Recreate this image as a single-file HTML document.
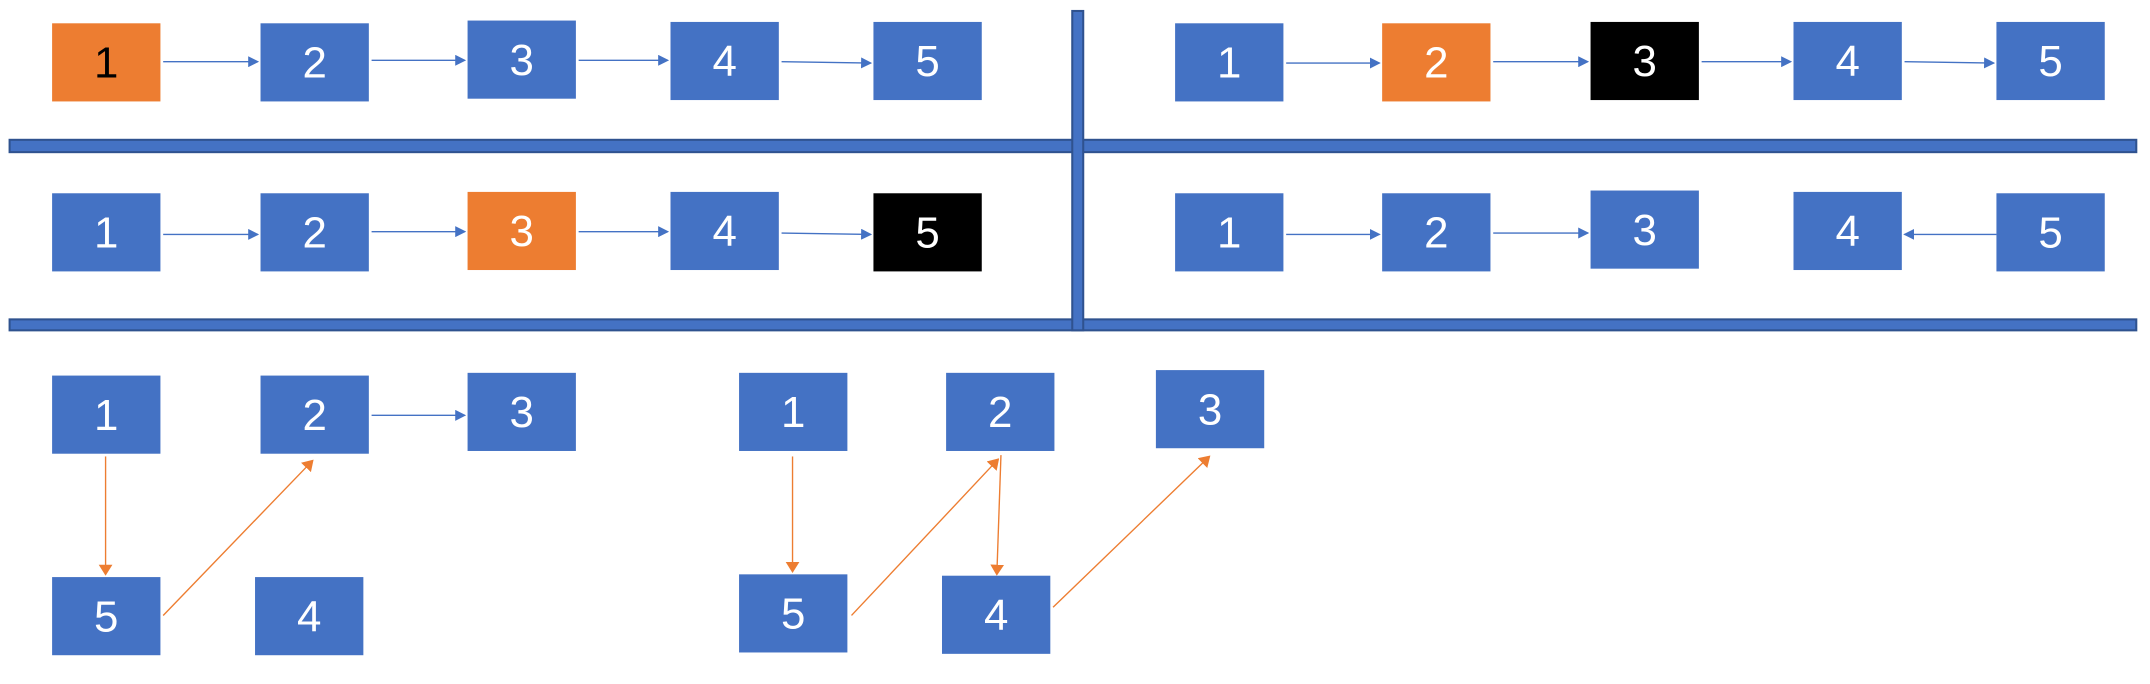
<!DOCTYPE html>
<html><head><meta charset="utf-8"><style>
html,body{margin:0;padding:0;background:#fff;width:2150px;height:684px;overflow:hidden}
svg{display:block}
text{font-family:"Liberation Sans",sans-serif;font-size:32px;text-anchor:middle;dominant-baseline:central}
</style></head><body>
<svg id="c" width="2150" height="684" viewBox="0 0 1568 499" preserveAspectRatio="none">
<defs>
<marker id="ab" markerWidth="8" markerHeight="8" refX="7" refY="4" orient="auto" markerUnits="userSpaceOnUse"><path d="M0,0 L8,4 L0,8 z" fill="#4472C4"/></marker>
<marker id="ao" markerWidth="8" markerHeight="10" refX="7" refY="5" orient="auto" markerUnits="userSpaceOnUse"><path d="M0,0 L8,5 L0,10 z" fill="#ED7D31"/></marker>
</defs>
<rect x="7" y="102" width="1551" height="9" fill="#4472C4" stroke="#2F528F" stroke-width="1.5"/>
<rect x="7" y="233" width="1551" height="8" fill="#4472C4" stroke="#2F528F" stroke-width="1.5"/>
<rect x="782" y="8" width="8" height="233" fill="#4472C4" stroke="#2F528F" stroke-width="1.5"/>
<g id="g"></g>
</svg>
<script>
const boxes=[
[38,17,'1','#ED7D31','#000'],[190,17,'2'],[341,15,'3'],[489,16,'4'],[637,16,'5'],
[857,17,'1'],[1008,17,'2','#ED7D31'],[1160,16,'3','#000'],[1308,16,'4'],[1456,16,'5'],
[38,141,'1'],[190,141,'2'],[341,140,'3','#ED7D31'],[489,140,'4'],[637,141,'5','#000'],
[857,141,'1'],[1008,141,'2'],[1160,139,'3'],[1308,140,'4'],[1456,141,'5'],
[38,274,'1'],[190,274,'2'],[341,272,'3'],[38,421,'5'],[186,421,'4'],
[539,272,'1'],[690,272,'2'],[843,270,'3'],[539,419,'5'],[687,420,'4']];
const arrows=[
[119,45,188,45,'b'],[271,44,339,44,'b'],[422,44,487,44,'b'],[570,45,635,46,'b'],
[938,46,1006,46,'b'],[1089,45,1158,45,'b'],[1241,45,1306,45,'b'],[1389,45,1454,46,'b'],
[119,171,188,171,'b'],[271,169,339,169,'b'],[422,169,487,169,'b'],[570,170,635,171,'b'],
[938,171,1006,171,'b'],[1089,170,1158,170,'b'],[1456,171,1389,171,'b'],
[271,303,339,303,'b'],
[77,333,77,419,'o'],[119,449,228,336,'o'],
[578,333,578,417,'o'],[621,449,728,335,'o'],[730,332,727,419,'o'],[768,443,882,333,'o']];
const g=document.getElementById('g');
const NS='http://www.w3.org/2000/svg';
arrows.forEach(a=>{
 const l=document.createElementNS(NS,'line');
 l.setAttribute('x1',a[0]);l.setAttribute('y1',a[1]);l.setAttribute('x2',a[2]);l.setAttribute('y2',a[3]);
 l.setAttribute('stroke',a[4]=='b'?'#4472C4':'#ED7D31');l.setAttribute('stroke-width','1');
 l.setAttribute('marker-end',a[4]=='b'?'url(#ab)':'url(#ao)');
 
 
 g.appendChild(l);
});
boxes.forEach(b=>{
 const r=document.createElementNS(NS,'rect');
 r.setAttribute('x',b[0]);r.setAttribute('y',b[1]);r.setAttribute('width',79);r.setAttribute('height',57);
 r.setAttribute('fill',b[3]||'#4472C4');
 
 
 g.appendChild(r);
 const t=document.createElementNS(NS,'text');
 t.setAttribute('x',b[0]+39.5);t.setAttribute('y',b[1]+29);
 t.setAttribute('fill',b[4]||'#fff');t.textContent=b[2];
 
 
 g.appendChild(t);
});
</script>
</body></html>
